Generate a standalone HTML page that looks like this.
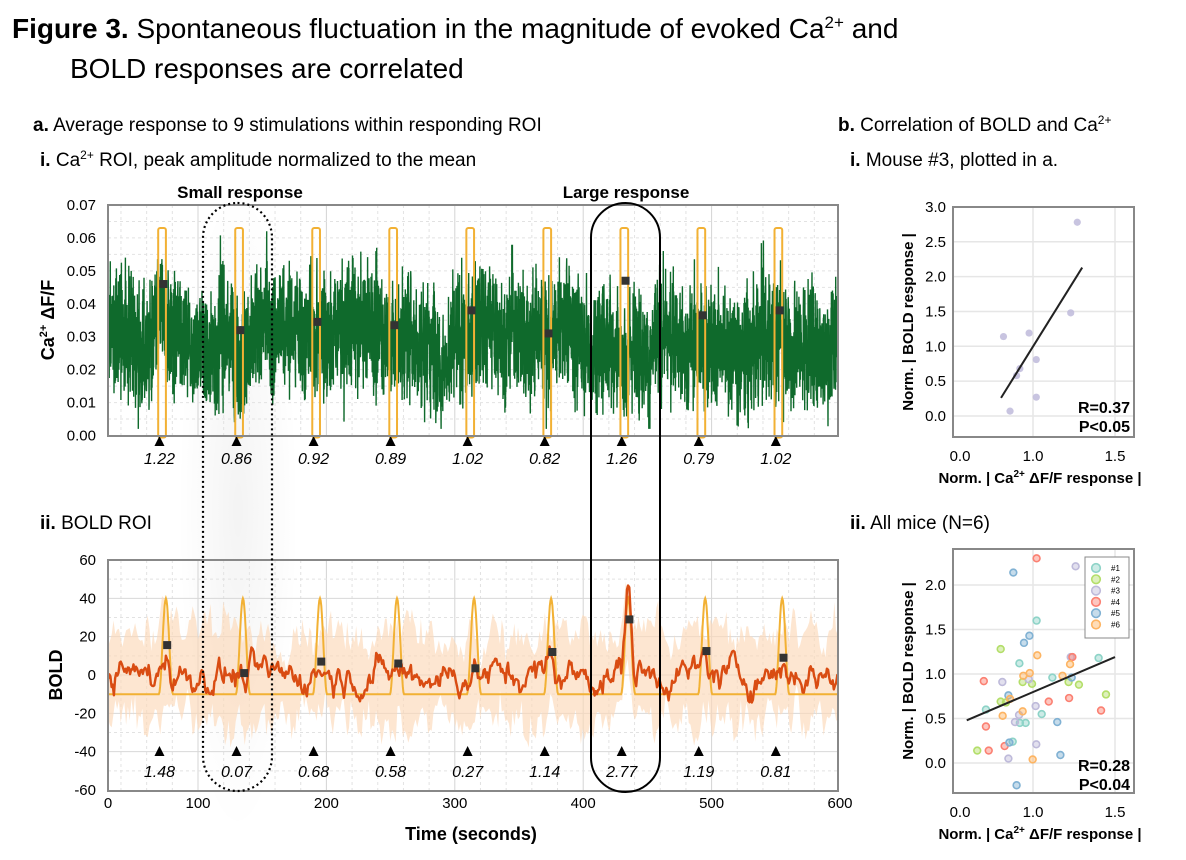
<!DOCTYPE html>
<html><head><meta charset="utf-8"><style>
body{margin:0;background:#fff;}
svg{display:block;font-family:"Liberation Sans",Arial,sans-serif;}
</style></head><body>
<svg id="fig" width="1186" height="860" viewBox="0 0 1186 860" xmlns="http://www.w3.org/2000/svg">
<defs>
<radialGradient id="shade" cx="0.5" cy="0.5" r="0.5"><stop offset="0" stop-color="#000" stop-opacity="0.045"/><stop offset="1" stop-color="#000" stop-opacity="0"/></radialGradient>
<clipPath id="c1"><rect x="108" y="205" width="730" height="231"/></clipPath>
<clipPath id="c2"><rect x="108" y="560" width="730" height="231"/></clipPath>
</defs>
<g fill="#000">
<text x="12" y="38" font-size="28"><tspan font-weight="bold">Figure 3.</tspan> Spontaneous fluctuation in the magnitude of evoked Ca<tspan font-size="17" dy="-10">2+</tspan><tspan dy="10"> and</tspan></text>
<text x="70" y="78" font-size="28">BOLD responses are correlated</text>
<text x="33" y="131" font-size="19"><tspan font-weight="bold">a.</tspan> Average response to 9 stimulations within responding ROI</text>
<text x="40" y="166" font-size="19"><tspan font-weight="bold">i.</tspan> Ca<tspan font-size="12" dy="-7">2+</tspan><tspan dy="7"> ROI, peak amplitude normalized to the mean</tspan></text>
<text x="40" y="529" font-size="19"><tspan font-weight="bold">ii.</tspan> BOLD ROI</text>
<text x="838" y="131" font-size="19"><tspan font-weight="bold">b.</tspan> Correlation of BOLD and Ca<tspan font-size="12" dy="-7">2+</tspan></text>
<text x="850" y="166" font-size="19"><tspan font-weight="bold">i.</tspan> Mouse #3, plotted in a.</text>
<text x="850" y="529" font-size="19"><tspan font-weight="bold">ii.</tspan> All mice (N=6)</text>
</g>
<g id="ovals"></g>
<g id="ca"></g>
<g id="bold"></g>
<g id="s1"></g>
<g id="s2"></g>
<g id="ovl2"></g>
</svg>
<script>
// ---- data ----
const timeTicks=[0,100,200,300,400,500,600];
const stimTimes=[70,130,190,250,310,370,430,490,550];
const caPeakLabels=["1.22","0.86","0.92","0.89","1.02","0.82","1.26","0.79","1.02"];
const caMarkers=[0.046,0.032,0.0345,0.0335,0.038,0.031,0.047,0.0365,0.038];
const caTicks=[0,0.01,0.02,0.03,0.04,0.05,0.06,0.07];
const boldPeakLabels=["1.48","0.07","0.68","0.58","0.27","1.14","2.77","1.19","0.81"];
const boldMarkers=[15.6,1,7,6,3.5,12,29,12.5,9];
const boldPeaks=[12,-2,5,4,2,10,45,9,6];
const boldTicks=[60,40,20,0,-20,-40,-60];
const m3X=[1.27,1.23,0.82,0.976,0.92,0.90,1.02,1.02,0.86];
const m3Y=[2.78,1.48,1.14,1.19,0.68,0.58,0.81,0.27,0.07];
const fit1=[[0.805,0.26],[1.30,2.13]];
const s1YTicks=[0,0.5,1,1.5,2,2.5,3];
const mice=["#1","#2","#3","#4","#5","#6"];
const miceColors=["#8dd3c7","#b3de69","#bebada","#fb8072","#80b1d3","#fdb462"];
const allX=[
[0.917,1.022,1.118,1.40,0.713,1.053,0.92,0.955,0.876],
[0.803,0.937,0.994,1.217,1.28,1.445,0.803,0.835,0.66],
[1.26,0.813,0.974,1.23,1.016,0.915,0.89,1.02,0.85],
[1.022,0.70,1.24,1.096,1.22,1.415,0.713,0.73,0.827],
[0.88,0.978,0.945,1.236,0.85,1.148,0.856,1.167,0.90],
[1.026,1.226,0.941,0.98,1.18,0.86,0.815,0.937,0.998]];
const allY=[
[1.12,1.60,0.96,1.18,0.60,0.55,0.45,0.45,0.24],
[1.28,0.91,0.89,0.91,0.88,0.77,0.69,0.68,0.14],
[2.21,0.91,0.94,1.19,0.64,0.54,0.46,0.21,0.05],
[2.30,0.92,1.19,0.69,0.73,0.59,0.41,0.14,0.19],
[2.14,1.43,1.35,0.96,0.76,0.46,0.23,0.09,-0.25],
[1.21,1.11,0.98,1.01,0.98,0.72,0.53,0.58,0.04]];
const fit2=[[0.596,0.48],[1.50,1.19]];
const s2YTicks=[0,0.5,1,1.5,2];

// ---- scales ----
const NS="http://www.w3.org/2000/svg";
const tx=t=>198+(t-100)*1.284;
const cy=v=>435.5-v/0.07*230.5;
const by=v=>675-v*1.917;
const sx=v=>1033+(v-1)*164;
const sy1=v=>416-v*69.7;
const sy2=v=>763-v*89;
function el(parent,tag,attrs,text){const e=document.createElementNS(NS,tag);for(const k in attrs)e.setAttribute(k,attrs[k]);if(text!==undefined)e.textContent=text;parent.appendChild(e);return e;}
// texture generator (deterministic) for dense noisy traces
let seed=12345;function rnd(){seed=(seed*1103515245+12345)%2147483648;return seed/2147483648;}
function gauss(){return (rnd()+rnd()+rnd()+rnd()-2)*1.2;}

// ---- ovals (shadows) ----
const ov=document.getElementById('ovals');
let sh=el(ov,'rect',{x:178,y:185,width:120,height:650,rx:60,fill:'url(#shade)'});


// ---- calcium chart ----
const ca=document.getElementById('ca');
for(let t=40;t<=600;t+=20){const x=tx(t);if(x<=108||x>=838)continue;
 let g=el(ca,'line',{x1:x,x2:x,y1:205,y2:436,stroke:timeTicks.includes(t)?'#d4d4d4':'#e2e2e2','stroke-dasharray':timeTicks.includes(t)?'':'3,3','stroke-width':1});
 }
for(let v=0.005;v<0.07;v+=0.005){let g=el(ca,'line',{x1:108,x2:838,y1:cy(v),y2:cy(v),stroke:'#e2e2e2','stroke-dasharray':'3,3'});
 }
// green trace
let pts=[],w=0;
for(let t=30;t<=604;t+=0.12){w=w*0.99+gauss()*0.0009;let v=0.031+w+gauss()*0.0135;v=Math.max(0.002,Math.min(0.064,v));pts.push(tx(t).toFixed(1)+','+cy(v).toFixed(1));}
let gt=el(ca,'polyline',{points:pts.join(' '),fill:'none',stroke:'#0f6a2c','stroke-width':1.4,'clip-path':'url(#c1)'});

stimTimes.forEach((s,i)=>{
 let r=el(ca,'rect',{x:tx(s-1),y:cy(0.063),width:tx(s+5)-tx(s-1),height:cy(0)-cy(0.063)+2,rx:2,fill:'none',stroke:'#f2b134','stroke-width':2});
 
 let m=el(ca,'rect',{x:tx(s+3)-4,y:cy(caMarkers[i])-4,width:8,height:8,fill:'#333'});
 
 let tr=el(ca,'polygon',{points:`${tx(s)-5},446 ${tx(s)+5},446 ${tx(s)},436`,fill:'#000'});
 
 let lb=el(ca,'text',{x:tx(s),y:464,'font-size':16,'font-style':'italic','text-anchor':'middle'},caPeakLabels[i]);
 
});
let f1=el(ca,'rect',{x:108,y:205,width:730,height:231,fill:'none',stroke:'#888','stroke-width':2});

caTicks.forEach(v=>{let l=el(ca,'text',{x:96,y:cy(v)+5,'font-size':15,'text-anchor':'end'},v.toFixed(2));
 });
let yl=el(ca,'text',{x:0,y:0,transform:'translate(54,320) rotate(-90)','font-size':18,'font-weight':'bold','text-anchor':'middle'});
yl.innerHTML='Ca<tspan font-size="11" dy="-7">2+</tspan><tspan dy="7"> ΔF/F</tspan>';

let st=el(ca,'text',{x:240,y:198,'font-size':17,'font-weight':'bold','text-anchor':'middle'},'Small response');

let lt=el(ca,'text',{x:626,y:198,'font-size':17,'font-weight':'bold','text-anchor':'middle'},'Large response');


// ---- BOLD chart ----
const bo=document.getElementById('bold');
for(let t=40;t<=600;t+=20){const x=tx(t);if(x<=108||x>=838)continue;
 let g=el(bo,'line',{x1:x,x2:x,y1:560,y2:791,stroke:timeTicks.includes(t)?'#d4d4d4':'#e2e2e2','stroke-dasharray':timeTicks.includes(t)?'':'3,3'});
 }
for(let v=-50;v<60;v+=10){let g=el(bo,'line',{x1:108,x2:838,y1:by(v),y2:by(v),stroke:v%20===0?'#d8d8d8':'#e2e2e2','stroke-dasharray':v%20===0?'':'3,3'});
 }
const hrf=t=>{let h=0;stimTimes.forEach(s=>{const d=t-(s+5);if(Math.abs(d)<5.5)h=Math.max(h,0.5+0.5*Math.cos(Math.PI*d/5.5));});return h;};
const resp=t=>{let h=0;stimTimes.forEach((s,i)=>{const d=t-(s+5);if(Math.abs(d)<6)h+=boldPeaks[i]*(0.5+0.5*Math.cos(Math.PI*d/6));});return h;};
let up=[],lo=[],ua=0,la=0;
for(let t=30;t<=604;t+=1.4){const c=resp(t)*0.6;ua=ua*0.6+gauss()*7;la=la*0.6+gauss()*7;
 up.push(tx(t).toFixed(1)+','+by(Math.min(58,c+18+ua+Math.abs(gauss())*6)).toFixed(1));
 lo.push(tx(t).toFixed(1)+','+by(Math.max(-58,c-20+la-Math.abs(gauss())*6)).toFixed(1));}
let band=el(bo,'polygon',{points:up.concat(lo.reverse()).join(' '),fill:'#fcd9b8','fill-opacity':0.65,'clip-path':'url(#c2)'});

let hp=[];for(let t=30;t<=604;t+=0.5)hp.push(tx(t).toFixed(1)+','+by(-10+50*hrf(t)).toFixed(1));
let hl=el(bo,'polyline',{points:hp.join(' '),fill:'none',stroke:'#f2b134','stroke-width':2,'clip-path':'url(#c2)'});

let rp=[],a=0;for(let t=30;t<=604;t+=0.9){a=a*0.8+gauss()*4.3;let v=a+resp(t);rp.push(tx(t).toFixed(1)+','+by(v).toFixed(1));}
let rl=el(bo,'polyline',{points:rp.join(' '),fill:'none',stroke:'#d94c12','stroke-width':2.4,'stroke-linejoin':'round','clip-path':'url(#c2)'});

stimTimes.forEach((s,i)=>{
 let m=el(bo,'rect',{x:tx(s+6)-4,y:by(boldMarkers[i])-4,width:8,height:8,fill:'#333'});
 
 let tr=el(bo,'polygon',{points:`${tx(s)-5},756 ${tx(s)+5},756 ${tx(s)},746`,fill:'#000'});
 
 let lb=el(bo,'text',{x:tx(s),y:777,'font-size':16,'font-style':'italic','text-anchor':'middle'},boldPeakLabels[i]);
 
});
let f2=el(bo,'rect',{x:108,y:560,width:730,height:231,fill:'none',stroke:'#888','stroke-width':2});

boldTicks.forEach(v=>{let l=el(bo,'text',{x:96,y:by(v)+5,'font-size':15,'text-anchor':'end'},String(v));
 });
timeTicks.forEach(t=>{let l=el(bo,'text',{x:Math.max(108,tx(t)),y:808,'font-size':15,'text-anchor':'middle'},String(t));
 });
let byl=el(bo,'text',{x:0,y:0,transform:'translate(62,675) rotate(-90)','font-size':18,'font-weight':'bold','text-anchor':'middle'},'BOLD');

let xt=el(bo,'text',{x:471,y:840,'font-size':18,'font-weight':'bold','text-anchor':'middle'},'Time (seconds)');


// ---- oval outlines ----
const o2=document.getElementById('ovl2');
let so=el(o2,'rect',{x:203,y:203,width:69,height:588,rx:34.5,fill:'none',stroke:'#000','stroke-width':2.2,'stroke-dasharray':'2,3'});

let lo2=el(o2,'rect',{x:591,y:203,width:69,height:589,rx:34.5,fill:'none',stroke:'#000','stroke-width':2});


// ---- scatter helper ----
function scatterFrame(g,top,bot,sy,yt,name){
 yt.forEach(v=>{let l=el(g,'line',{x1:953,x2:1134,y1:sy(v),y2:sy(v),stroke:'#e6e6e6','stroke-width':1.5});
  let t=el(g,'text',{x:946,y:sy(v)+5,'font-size':15,'text-anchor':'end'},v.toFixed(1));});
 [1,1.5].forEach(v=>{let l=el(g,'line',{x1:sx(v),x2:sx(v),y1:top,y2:bot,stroke:'#e6e6e6','stroke-width':1.5});});
 const xl=[["0.0",960],["1.0",1033],["1.5",1115]];
 xl.forEach(([s,x])=>{let t=el(g,'text',{x:x,y:bot+24,'font-size':15,'text-anchor':'middle'},s);});
 let xa=el(g,'text',{x:1040,y:bot+46,'font-size':15,'font-weight':'bold','text-anchor':'middle'});
 xa.innerHTML='Norm. | Ca<tspan font-size="10" dy="-6">2+</tspan><tspan dy="6"> ΔF/F response |</tspan>';
 
 let ya=el(g,'text',{x:0,y:0,transform:`translate(913,${(top+bot)/2}) rotate(-90)`,'font-size':15,'font-weight':'bold','text-anchor':'middle'},'Norm. | BOLD response |');
 
}
// scatter 1
const g1=document.getElementById('s1');
scatterFrame(g1,207,437,sy1,s1YTicks,'scatter1');
m3X.forEach((x,i)=>{let c=el(g1,'circle',{cx:sx(x),cy:sy1(m3Y[i]),r:3.6,fill:'#bebada','fill-opacity':0.85});});
let fl1=el(g1,'line',{x1:sx(fit1[0][0]),y1:sy1(fit1[0][1]),x2:sx(fit1[1][0]),y2:sy1(fit1[1][1]),stroke:'#222','stroke-width':2});

let fr1=el(g1,'rect',{x:953,y:207,width:181,height:230,fill:'none',stroke:'#888','stroke-width':2});

let r1=el(g1,'text',{x:1130,y:413,'font-size':16,'font-weight':'bold','text-anchor':'end'},'R=0.37');
let p1=el(g1,'text',{x:1130,y:432,'font-size':16,'font-weight':'bold','text-anchor':'end'},'P<0.05');
// scatter 2
const g2=document.getElementById('s2');
scatterFrame(g2,549,793,sy2,s2YTicks,'scatter2');
allX.forEach((xs,k)=>xs.forEach((x,i)=>{let c=el(g2,'circle',{cx:sx(x),cy:sy2(allY[k][i]),r:3.4,fill:miceColors[k],'fill-opacity':0.45,stroke:miceColors[k],'stroke-width':1.6});}));
let fl2=el(g2,'line',{x1:sx(fit2[0][0]),y1:sy2(fit2[0][1]),x2:sx(fit2[1][0]),y2:sy2(fit2[1][1]),stroke:'#222','stroke-width':2});

let fr2=el(g2,'rect',{x:953,y:549,width:181,height:244,fill:'none',stroke:'#888','stroke-width':2});

let lg=el(g2,'rect',{x:1085,y:557,width:44,height:81,fill:'#fff',stroke:'#888','stroke-width':1});

mice.forEach((m,k)=>{const y=568+k*11.3;
 let c=el(g2,'circle',{cx:1096,cy:y,r:4.3,fill:miceColors[k],'fill-opacity':0.45,stroke:miceColors[k],'stroke-width':1.6});
 let t=el(g2,'text',{x:1111,y:y+3,'font-size':8},m);});
let r2=el(g2,'text',{x:1130,y:771,'font-size':16,'font-weight':'bold','text-anchor':'end'},'R=0.28');
let p2=el(g2,'text',{x:1130,y:790,'font-size':16,'font-weight':'bold','text-anchor':'end'},'P<0.04');
</script>
</body></html>
